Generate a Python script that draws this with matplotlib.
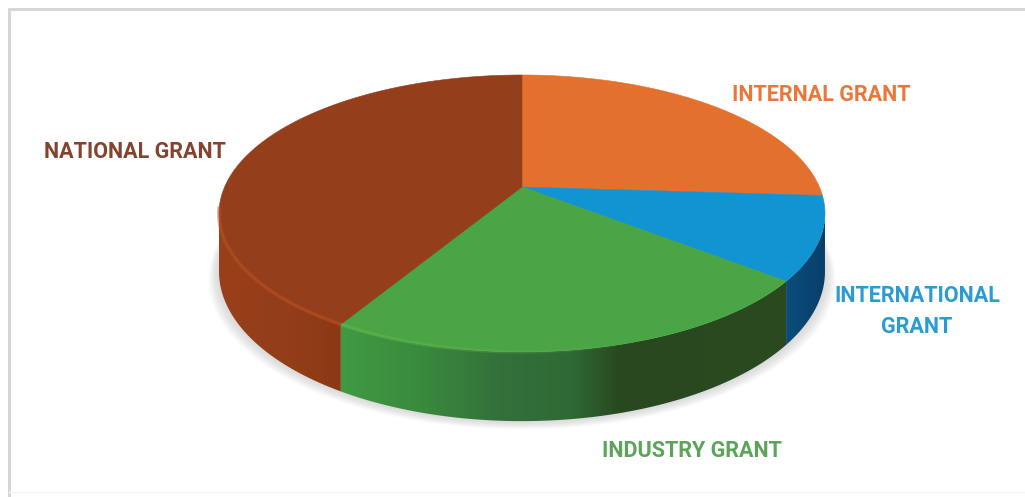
import numpy as np
import matplotlib
matplotlib.use("Agg")
import matplotlib.pyplot as plt
from matplotlib.collections import LineCollection
from matplotlib.colors import to_rgb
from matplotlib.patches import Polygon

# data
categories = ["INTERNAL GRANT", "INTERNATIONAL\nGRANT", "INDUSTRY GRANT", "NATIONAL GRANT"]
values = [26.0, 9.7, 22.8, 41.5]

# style
top_colors = ["#e3702d", "#1293d2", "#4aa544", "#953e1c"]
label_colors = ["#e8783a", "#2b9bd3", "#5ba45a", "#85432e"]
label_pos = [(821, 95), (917, 311.5), (692, 451), (135, 152)]
# wall colour stops over screen x
wall_stops = [
    [(520, "#8a3a14"), (830, "#7a3412")],
    [(780, "#0b4f80"), (830, "#083d66")],
    [(342, "#3f9a42"), (420, "#3a8a3e"), (500, "#33703a"), (570, "#2f6a35"),
     (620, "#28481f"), (790, "#2a4a20")],
    [(218, "#98401a"), (290, "#933d19"), (345, "#8c3814")],
]
edge_light = ["#f08a48", "#1a8ac8", "#66b84e", "#b9501f"]

CX, CY, A, B, K, D = 522.0, 187.0, 297.4, 133.4, 0.191, 56.0


def project(theta):
    u, v = np.cos(theta), np.sin(theta)
    w = 1 + K * v
    return CX + A * u / w, CY - B * v / w, D / w


fig = plt.figure(figsize=(10.25, 4.97), dpi=100, facecolor="white")
ax = fig.add_axes([0, 0, 1, 1])
ax.axis("off")

# frame
ax.plot([9, 9, 1025], [497, 9, 9], color="#d6d6d6", lw=2.1, solid_joinstyle="miter", zorder=1)
ax.plot([9, 1025], [492, 492], color="#f6f6f6", lw=1, zorder=1)

# soft shadow below the body
t_all = np.linspace(0, 2 * np.pi, 361)
x_all, y_all, d_all = project(t_all)
for grow in np.linspace(14, 1, 14):
    ax.add_patch(Polygon(np.c_[CX + (x_all - CX) * (1 + grow / 400), y_all + d_all + grow * 0.6],
                         closed=True, fc="#6a6a6a", ec="none", alpha=0.017, zorder=2))

# slices
angles = 90 - np.cumsum([0] + values) / sum(values) * 360
# the wall is visible between the two horizontal extremes of the rim
vis_hi = -np.degrees(np.arcsin(K))
vis_lo = -180 - vis_hi
grid_x = np.arange(200, 850)
for i in range(len(values)):
    hi, lo = min(angles[i], vis_hi), max(angles[i + 1], vis_lo)
    if hi <= lo:
        continue
    t = np.radians(np.linspace(hi, lo, 240))
    x, y, d = project(t)
    # wall: horizontal gradient clipped to the slice's wall outline
    sx = [s[0] for s in wall_stops[i]]
    rgb = np.array([to_rgb(s[1]) for s in wall_stops[i]])
    grad = np.stack([np.interp(grid_x, sx, rgb[:, c]) for c in range(3)], axis=-1)[None, :, :]
    wall = Polygon(np.r_[np.c_[x, y], np.c_[x, y + d][::-1]], closed=True, fc="none", ec="none",
                   transform=ax.transData)
    ax.add_patch(wall)
    im = ax.imshow(grad, extent=(200, 850, 460, 60), aspect="auto", zorder=3, interpolation="bilinear")
    im.set_clip_path(wall)

for i in range(len(values)):
    t = np.radians(np.linspace(angles[i], angles[i + 1], 240))
    x, y, d = project(t)
    ax.add_patch(Polygon(np.r_[[[CX, CY]], np.c_[x, y]], closed=True, fc=top_colors[i],
                         ec=top_colors[i], lw=0.4, zorder=5))
    # rim highlight, strongest on the left of the front edge
    segs = [[(x[j], y[j]), (x[j + 1], y[j + 1])] for j in range(len(x) - 1)]
    mid = (x[:-1] + x[1:]) / 2
    fade = np.clip((640 - mid) / 300, 0, 1) * (np.sin(t[:-1]) < -0.15)
    rgba = np.c_[np.tile(to_rgb(edge_light[i]), (len(mid), 1)), fade * 0.55]
    ax.add_collection(LineCollection(segs, colors=rgba, linewidths=2.6, zorder=6))

# labels
for name, pos, col in zip(categories, label_pos, label_colors):
    ax.text(pos[0], pos[1], name, color=col, ha="center", va="center", family="Roboto",
            weight="bold", fontsize=15.5, linespacing=1.55, zorder=8)

ax.set_xlim(0, 1025)
ax.set_ylim(497, 0)
fig.savefig("out.png", dpi=100, facecolor="white")
